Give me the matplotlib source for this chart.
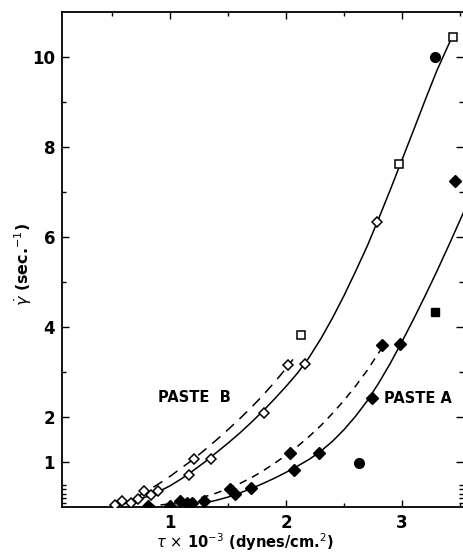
import matplotlib
matplotlib.use("Agg")
import matplotlib.pyplot as plt
from matplotlib.ticker import FixedLocator

# ---- data ----
b_diamond_x = [0.53, 0.59, 0.66, 0.72, 0.78, 0.84, 0.90, 1.16, 1.21, 1.35, 1.81, 2.02, 2.16, 2.78]
b_diamond_y = [0.04, 0.13, 0.09, 0.18, 0.36, 0.27, 0.36, 0.71, 1.07, 1.07, 2.09, 3.16, 3.18, 6.33]
b_square_x = [2.13, 2.97, 3.44]
b_square_y = [3.82, 7.62, 10.44]

a_diamond_x = [0.81, 1.00, 1.09, 1.15, 1.19, 1.29, 1.52, 1.56, 1.70, 2.03, 2.07, 2.28, 2.74, 2.83, 2.98, 3.46]
a_diamond_y = [0.02, 0.02, 0.13, 0.10, 0.09, 0.13, 0.40, 0.29, 0.42, 1.20, 0.82, 1.20, 2.42, 3.60, 3.62, 7.24]
a_circle_x = [2.63, 3.28]
a_circle_y = [0.98, 10.00]
a_square_x = [3.28]
a_square_y = [4.33]

# curves
b_solid_x = [0.53, 0.6, 0.7, 0.8, 0.9, 1.0, 1.1, 1.2, 1.3, 1.4, 1.5, 1.6, 1.7, 1.8, 1.9,
             2.0, 2.1, 2.2, 2.3, 2.4, 2.5, 2.6, 2.7, 2.8, 2.9, 3.0, 3.1, 3.2, 3.3, 3.44]
b_solid_y = [0.03, 0.07, 0.14, 0.23, 0.34, 0.47, 0.63, 0.81, 1.00, 1.21, 1.42, 1.64, 1.88, 2.13, 2.40,
             2.68, 2.98, 3.33, 3.74, 4.20, 4.70, 5.24, 5.80, 6.42, 7.06, 7.72, 8.38, 9.05, 9.70, 10.50]
b_dash_x = [0.58, 0.65, 0.7, 0.8, 0.9, 1.0, 1.1, 1.2, 1.3, 1.4, 1.5, 1.6, 1.7, 1.8, 1.9, 2.0, 2.06]
b_dash_y = [0.05, 0.13, 0.20, 0.35, 0.51, 0.68, 0.87, 1.06, 1.27, 1.49, 1.72, 1.96, 2.21, 2.48, 2.77, 3.08, 3.28]
a_solid_x = [1.35, 1.4, 1.5, 1.6, 1.7, 1.8, 1.9, 2.0, 2.1, 2.2, 2.3, 2.4, 2.5, 2.6, 2.7, 2.8,
             2.9, 3.0, 3.1, 3.2, 3.3, 3.4, 3.53]
a_solid_y = [0.12, 0.15, 0.22, 0.31, 0.41, 0.52, 0.64, 0.77, 0.91, 1.06, 1.24, 1.46, 1.72, 2.02, 2.36, 2.76,
             3.20, 3.68, 4.18, 4.70, 5.24, 5.80, 6.55]
a_dash_x = [0.8, 0.9, 1.0, 1.1, 1.2, 1.3, 1.4, 1.5, 1.6, 1.7, 1.8, 1.9, 2.0, 2.1, 2.2, 2.3,
            2.4, 2.5, 2.6, 2.7, 2.83]
a_dash_y = [0.02, 0.04, 0.07, 0.11, 0.16, 0.23, 0.31, 0.41, 0.52, 0.65, 0.80, 0.97, 1.15, 1.35, 1.57, 1.81,
            2.08, 2.37, 2.69, 3.04, 3.55]

x_major = [1, 2, 3]
x_minor = [0.5, 1.5, 2.5, 3.5]
y_major = [1, 2, 4, 6, 8, 10]
y_minor = [0.1, 0.2, 0.3, 0.4, 0.5, 3, 5, 7, 9]

fig = plt.figure(figsize=(4.64, 5.53), dpi=100)
ax = fig.add_axes([62/464, 46/553, 401/464, 495/553])

lw = 1.1
ax.plot(b_solid_x, b_solid_y, color="black", lw=lw)
ax.plot(b_dash_x, b_dash_y, color="black", lw=lw, dashes=(7, 5))
ax.plot(a_solid_x, a_solid_y, color="black", lw=lw)
ax.plot(a_dash_x, a_dash_y, color="black", lw=lw, dashes=(5, 4))

ax.plot(b_diamond_x, b_diamond_y, ls="none", marker="D", ms=5.5, mfc="white", mec="black", mew=1.1, zorder=3)
ax.plot(b_square_x, b_square_y, ls="none", marker="s", ms=5.5, mfc="white", mec="black", mew=1.1, zorder=3)
ax.plot(a_diamond_x, a_diamond_y, ls="none", marker="D", ms=6, mfc="black", mec="black", zorder=3)
ax.plot(a_circle_x, a_circle_y, ls="none", marker="o", ms=7, mfc="black", mec="black", zorder=3)
ax.plot(a_square_x, a_square_y, ls="none", marker="s", ms=6, mfc="black", mec="black", zorder=3)

ax.set_xlim(0.069, 3.525)
ax.set_ylim(0, 11.0)

ax.xaxis.set_major_locator(FixedLocator(x_major))
ax.xaxis.set_minor_locator(FixedLocator(x_minor))
ax.yaxis.set_major_locator(FixedLocator(y_major))
ax.yaxis.set_minor_locator(FixedLocator(y_minor))
ax.set_xticklabels([str(v) for v in x_major])
ax.set_yticklabels([str(v) for v in y_major])

ax.tick_params(which="both", direction="in", top=True, right=True, width=1)
ax.tick_params(which="major", length=5, labelsize=12, pad=5)
ax.tick_params(which="minor", length=3)
for lab in ax.get_xticklabels() + ax.get_yticklabels():
    lab.set_fontweight("bold")

ax.spines["right"].set_visible(False)
for s in ["left", "bottom", "top"]:
    ax.spines[s].set_linewidth(1.3)

ax.text(0.90, 2.44, "PASTE  B", fontsize=10.5, fontweight="bold", va="center", ha="left")
ax.text(2.84, 2.42, "PASTE A", fontsize=10.5, fontweight="bold", va="center", ha="left")

ax.set_xlabel(r"$\tau$ $\times$ 10$^{-3}$ (dynes/cm.$^{2}$)", fontsize=10.5, fontweight="bold", va="center")
ax.xaxis.set_label_coords(0.456, -0.072)
ax.set_ylabel(r"$\dot{\gamma}$ (sec.$^{-1}$)", fontsize=11.5, fontweight="bold", va="center")
ax.yaxis.set_label_coords(-0.097, 0.49)

fig.savefig("out.png", dpi=100)
